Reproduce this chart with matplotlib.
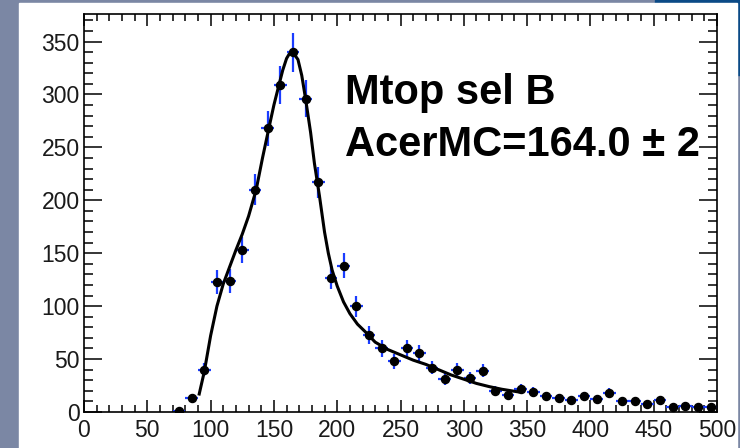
import numpy as np
import matplotlib
matplotlib.use("Agg")
import matplotlib.pyplot as plt
from matplotlib.patches import Rectangle
from matplotlib.ticker import MultipleLocator

plt.rcParams['font.family'] = ['Liberation Sans', 'DejaVu Sans']

# histogram: bin centres (width 10) and counts
bin_centers = [75, 85, 95, 105, 115, 125, 135, 145, 155, 165, 175, 185, 195, 205,
               215, 225, 235, 245, 255, 265, 275, 285, 295, 305, 315, 325, 335, 345,
               355, 365, 375, 385, 395, 405, 415, 425, 435, 445, 455, 465, 475, 485, 495]
counts = [1, 13, 40, 123, 124, 153, 210, 268, 309, 340, 296, 217, 127, 138,
          100, 73, 60, 48, 60, 56, 42, 31, 40, 32, 39, 20, 16, 22,
          19, 15, 13, 11, 15, 12, 18, 10, 10, 8, 11, 5, 6, 4.5, 5]
bin_width = 10

# fitted curve, sampled by eye
fit_x = [91, 95, 100, 105, 110, 115, 120, 125, 130, 136, 141, 146, 150, 154, 157, 160, 162,
         164, 166, 169, 172, 175, 179, 182, 186, 188, 190, 193, 196, 200, 205, 210, 216,
         222, 230, 240, 250, 260, 270, 280, 290, 300, 310, 320, 330, 343]
fit_y = [17, 38, 72, 100, 121, 137, 153, 168, 185, 210, 240, 268, 290, 309, 323, 334, 338,
         340, 338, 333, 318, 296, 264, 235, 204, 187, 170, 150, 134, 119, 104, 93, 83,
         76, 66, 59, 54, 49, 45, 40, 35, 31, 27, 24, 21.5, 19]

label_line1 = "Mtop sel B"
label_line2 = "AcerMC=164.0 \u00b1 2"

fig = plt.figure(figsize=(7.4, 4.48), dpi=100)
fig.patch.set_facecolor('#7b87a4')
# slide decoration: dark blue corner and white panel
fig.add_artist(Rectangle((655 / 740, 373 / 448), 85 / 740, 75 / 448,
                         transform=fig.transFigure, color='#0b4a86', zorder=0))
fig.add_artist(Rectangle((19 / 740, 0), 718 / 740, 445 / 448,
                         transform=fig.transFigure, color='white', zorder=0))

ax = fig.add_axes([84 / 740, 36 / 448, 633 / 740, 398 / 448])
ax.set_facecolor('white')

x = np.array(bin_centers)
y = np.array(counts)
ax.errorbar(x, y, xerr=bin_width / 2, yerr=np.sqrt(y), fmt='none',
            ecolor='#1a3cff', elinewidth=1.6, capsize=0, zorder=2)
ax.plot(x, y, 'o', color='black', markersize=5.8, zorder=3)
ax.plot(fit_x, fit_y, color='black', linewidth=2.2, zorder=4,
        solid_joinstyle='round')

ax.text(206, 291, label_line1, fontsize=30, fontweight='bold', color='black')
ax.text(206, 242, label_line2, fontsize=30, fontweight='bold', color='black')

ax.set_xlim(0, 500)
ax.set_ylim(0, 376)
ax.xaxis.set_major_locator(MultipleLocator(50))
ax.xaxis.set_minor_locator(MultipleLocator(10))
ax.yaxis.set_major_locator(MultipleLocator(50))
ax.yaxis.set_minor_locator(MultipleLocator(10))

ax.tick_params(which='both', direction='in', top=True, right=True,
               labelsize=16.5, labelcolor='#1a1a1a', width=1.1)
ax.tick_params(axis='x', which='major', length=8.6, pad=5)
ax.tick_params(axis='x', which='minor', length=5)
ax.tick_params(axis='y', which='major', length=13, pad=3)
ax.tick_params(axis='y', which='minor', length=6.5)
for s in ax.spines.values():
    s.set_linewidth(1.2)

fig.savefig('out.png', dpi=100, facecolor=fig.get_facecolor())
